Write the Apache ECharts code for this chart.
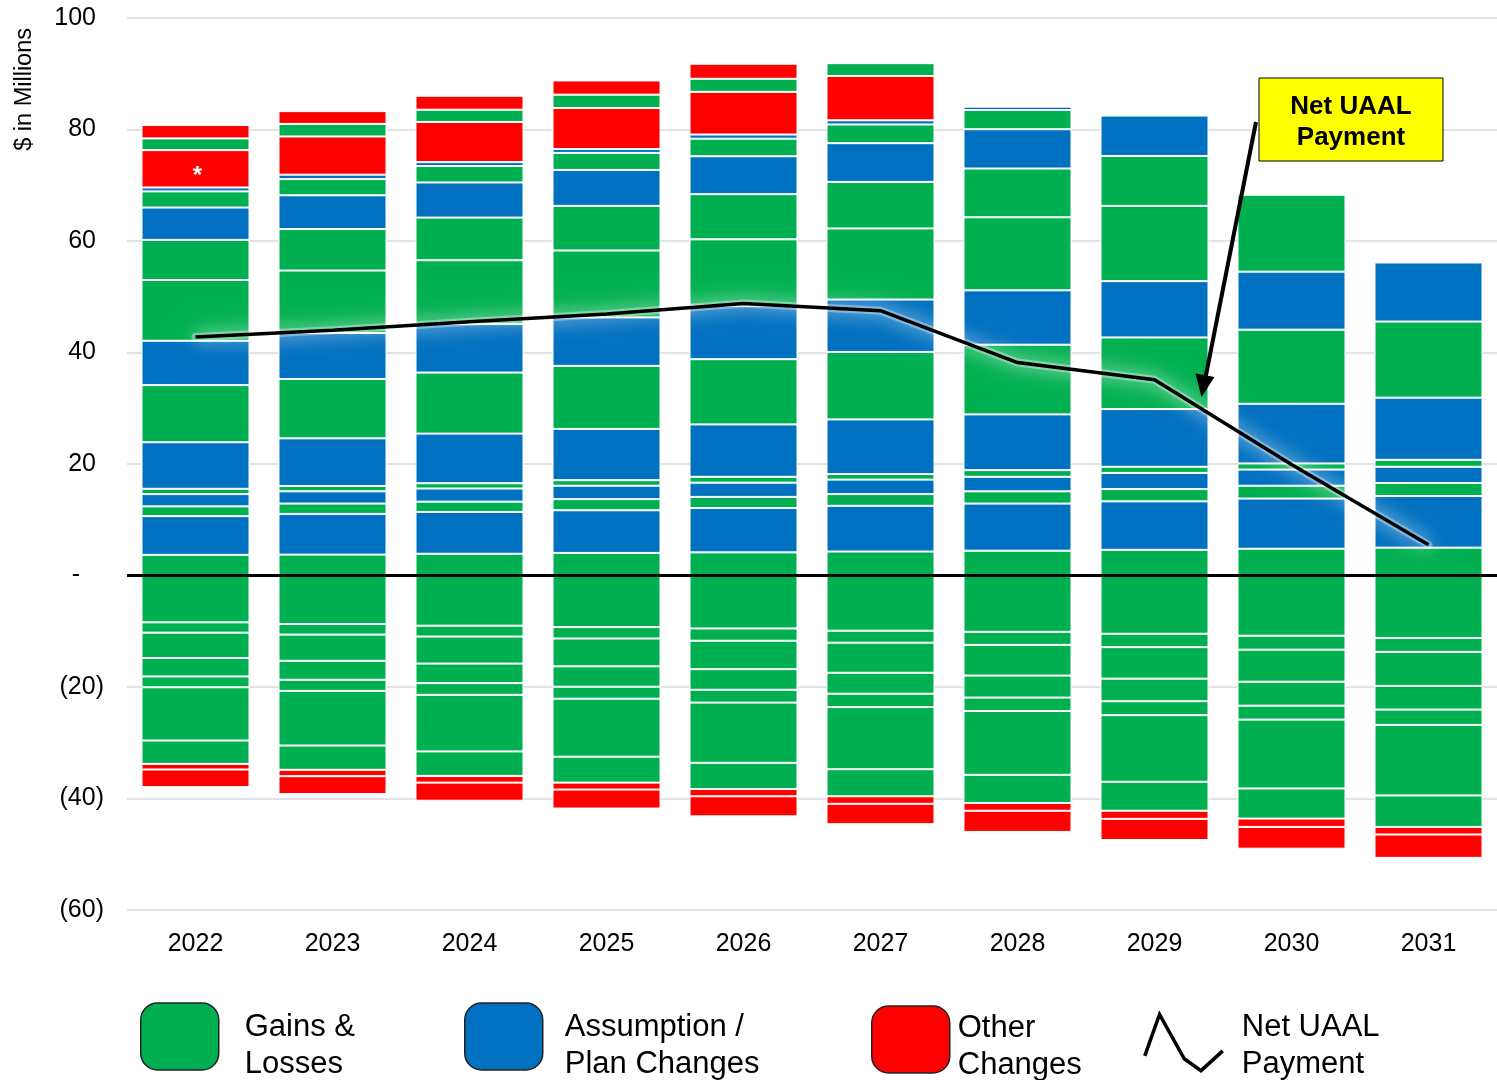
<!DOCTYPE html>
<html><head><meta charset="utf-8">
<script src="https://cdn.jsdelivr.net/npm/echarts@6/dist/echarts.min.js"></script>
<style>html,body{margin:0;padding:0;background:#fff}#c{width:1497px;height:1080px}</style>
</head><body><div id="c"></div>
<script>
// ---------- DATA ----------
const years = ['2022','2023','2024','2025','2026','2027','2028','2029','2030','2031'];
const yTickValues = [-60,-40,-20,0,20,40,60,80,100];
const yTickLabels = ['(60)','(40)','(20)','-','20','40','60','80','100'];

// positive layers, bottom to top
const posG1  = [3.7, 3.75, 3.9, 4.05, 4.15, 4.3, 4.45, 4.6, 4.8, 5.0];
const posB2  = [6.95, 7.3, 7.5, 7.65, 7.95, 8.2, 8.45, 8.7, 9.0, 9.25];
const posG3  = [1.75, 1.85, 1.85, 2.0, 2.0, 2.1, 2.2, 2.2, 2.3, 2.35];
const posB4  = [2.2, 2.2, 2.35, 2.4, 2.55, 2.6, 2.6, 2.9, 2.9, 2.9];
const posG5  = [0.95, 0.95, 0.95, 1.0, 1.05, 1.0, 1.2, 1.1, 1.1, 1.25];
const posB6  = [8.35, 8.55, 8.9, 9.2, 9.4, 9.8, 10.0, 10.35, 10.7, 11.15];
const posG7  = [10.25, 10.65, 10.95, 11.3, 11.7, 12.1, 12.5, 12.85, 13.3, 13.65];
const posB8  = [7.95, 8.25, 8.7, 8.7, 9.6, 9.4, 9.75, 10.1, 10.4, 10.6];
const posG9  = [10.9, 11.2, 11.45, 12.0, 11.9, 12.75, 13.1, 13.5, 13.8, null];
const posG10 = [7.2, 7.45, 7.65, 8.0, 8.1, 8.35, 8.75, 8.95, null, null];
const posB11 = [5.8, 6.05, 6.3, 6.45, 6.8, 6.95, 7.05, 7.25, null, null];
const posG12 = [2.9, 2.9, 2.95, 3.05, 3.15, 3.35, 3.45, null, null, null];
const posB13 = [0.7, 0.8, 0.7, 0.7, 0.75, 0.75, 0.6, null, null, null];
const posR14 = [6.7, 6.85, 7.2, 7.35, 7.65, 7.95, null, null, null, null];
const posG15 = [2.1, 2.25, 2.2, 2.4, 2.35, 2.3, null, null, null, null];
const posR16 = [2.4, 2.3, 2.5, 2.55, 2.7, null, null, null, null, null];

// negative layers, from zero downward
const negG1 = [-8.4, -8.7, -9.0, -9.25, -9.5, -9.9, -10.1, -10.45, -10.8, -11.2];
const negG2 = [-1.85, -1.9, -1.95, -2.05, -2.2, -2.15, -2.35, -2.4, -2.5, -2.5];
const negG3 = [-4.55, -4.7, -4.85, -5.0, -5.1, -5.4, -5.5, -5.65, -5.75, -6.1];
const negG4 = [-3.3, -3.4, -3.5, -3.65, -3.7, -3.75, -3.95, -4.05, -4.3, -4.25];
const negG5 = [-1.95, -2.0, -2.1, -2.15, -2.3, -2.4, -2.4, -2.5, -2.5, -2.75];
const negG6 = [-9.55, -9.8, -10.15, -10.4, -10.8, -11.15, -11.45, -11.95, -12.35, -12.65];
const negG7 = [-4.2, -4.35, -4.4, -4.65, -4.7, -4.85, -5.05, -5.2, -5.4, -5.65];
const negR8 = [-1.0, -1.15, -1.2, -1.25, -1.3, -1.35, -1.4, -1.45, -1.5, -1.35];
const negR9 = [-3.15, -3.2, -3.25, -3.4, -3.6, -3.65, -3.8, -3.8, -3.9, -4.2];

const netUAAL = [42.8, 44.0, 45.5, 46.9, 48.8, 47.5, 38.2, 35.1, 19.9, 5.5];

// ---------- STYLE ----------
const FONT = 'Arial, "Liberation Sans", sans-serif';
const COL = { g: '#00B050', b: '#0070C0', r: '#FF0000' };
const NAME = { g: 'Gains & Losses', b: 'Assumption / Plan Changes', r: 'Other Changes' };
const LEG = {
  'Gains & Losses': ['Gains &', 'Losses'],
  'Assumption / Plan Changes': ['Assumption /', 'Plan Changes'],
  'Other Changes': ['Other', 'Changes'],
  'Net UAAL Payment': ['Net UAAL', 'Payment']
};

const layers = [
  [posG1,'g'],[posB2,'b'],[posG3,'g'],[posB4,'b'],[posG5,'g'],[posB6,'b'],[posG7,'g'],[posB8,'b'],
  [posG9,'g'],[posG10,'g'],[posB11,'b'],[posG12,'g'],[posB13,'b'],[posR14,'r'],[posG15,'g'],[posR16,'r'],
  [negG1,'g'],[negG2,'g'],[negG3,'g'],[negG4,'g'],[negG5,'g'],[negG6,'g'],[negG7,'g'],[negR8,'r'],[negR9,'r']
];

const series = layers.map(([arr, c]) => ({
  type: 'bar',
  name: NAME[c],
  stack: 'total',
  barWidth: 108,
  itemStyle: { color: COL[c], borderColor: '#ffffff', borderWidth: 1 },
  emphasis: { disabled: true },
  data: arr.map((v, i) => {
    if (arr === posR14 && i === 0) {
      return { value: v, label: { show: true, formatter: '*', color: '#fff', fontSize: 24, fontWeight: 'bold', fontFamily: FONT, position: 'inside', offset: [2, 8] } };
    }
    return v;
  })
}));

// soft white glow under the payment line
series.push({
  type: 'line',
  name: 'glow',
  data: netUAAL,
  symbol: 'none',
  z: 9,
  silent: true,
  lineStyle: { color: 'rgba(255,255,255,0.35)', width: 8, cap: 'round', join: 'round',
               shadowColor: 'rgba(255,255,255,1)', shadowBlur: 30 },
  emphasis: { disabled: true }
});

series.push({
  type: 'line',
  name: 'Net UAAL Payment',
  data: netUAAL,
  symbol: 'none',
  z: 10,
  color: '#000',
  lineStyle: { color: '#000', width: 3.5, shadowColor: 'rgba(255,255,255,1)', shadowBlur: 16 },
  emphasis: { disabled: true },
  markLine: {
    silent: true, symbol: 'none',
    label: { show: false },
    lineStyle: { color: '#000', width: 3, type: 'solid', shadowBlur: 0 },
    data: [{ yAxis: 0 }]
  }
});

function legendCfg(name, left, top, textPad, shift, extra) {
  return Object.assign({
    left: left, top: top, padding: 0,
    itemWidth: 78, itemHeight: 67,
    icon: 'roundRect',
    itemStyle: { borderColor: '#222', borderWidth: 1.5 },
    selectedMode: false,
    formatter: n => '{s| }\n' + LEG[n].map(l => '{t|' + l + '}').join('\n'),
    textStyle: {
      fontFamily: FONT, fontSize: 31, color: '#000', padding: [0, 0, 0, textPad],
      rich: {
        s: { fontSize: 1, lineHeight: shift },
        t: { fontFamily: FONT, fontSize: 31, lineHeight: 37, color: '#000' }
      }
    },
    data: [name]
  }, extra || {});
}

const option = {
  animation: false,
  backgroundColor: '#fff',
  grid: { left: 127, right: -8, top: 18, bottom: 170, containLabel: false },
  xAxis: {
    type: 'category',
    data: years,
    axisLine: { show: false },
    axisTick: { show: false },
    axisLabel: { fontFamily: FONT, fontSize: 25, color: '#000', margin: 22 }
  },
  yAxis: {
    type: 'value',
    min: -60, max: 100, interval: 20,
    axisLine: { show: false },
    axisTick: { show: false },
    splitLine: { lineStyle: { color: '#d9d9d9', width: 1.5 } },
    axisLabel: {
      fontFamily: FONT, fontSize: 25, color: '#000', margin: 23,
      formatter: v => {
        const idx = yTickValues.indexOf(v);
        const t = idx >= 0 ? yTickLabels[idx] : '';
        if (v > 0) return '{p|' + t + '}';
        if (v === 0) return '{z|' + t + '}';
        return '{n|' + t + '}';
      },
      rich: {
        p: { fontFamily: FONT, fontSize: 25, color: '#000', padding: [0, 8, 0, 0] },
        z: { fontFamily: FONT, fontSize: 25, color: '#000', padding: [0, 24, 0, 0] },
        n: { fontFamily: FONT, fontSize: 25, color: '#000' }
      }
    }
  },
  legend: [
    legendCfg('Gains & Losses', 140, 999, 21, 18),
    legendCfg('Assumption / Plan Changes', 464, 999, 17, 18),
    legendCfg('Other Changes', 871, 1002, 3, 14),
    legendCfg('Net UAAL Payment', 1143, 1005, 14, 6, {
      itemHeight: 58,
      data: [{ name: 'Net UAAL Payment', icon: 'path://M0,42 L15,0 L40,45 L57,57 L79,37',
               itemStyle: { color: 'rgba(0,0,0,0)', borderColor: '#000', borderWidth: 3.5 } }]
    })
  ],
  graphic: [
    { type: 'text', left: 13, top: 28, rotation: Math.PI / 2,
      style: { text: '$ in Millions', fontFamily: FONT, fontSize: 23.5, fill: '#000' } },
    { type: 'rect', shape: { x: 1259, y: 78, width: 184, height: 83 },
      style: { fill: '#FFFF00', stroke: '#000', lineWidth: 1 }, z: 20 },
    { type: 'text', x: 1351, y: 122, z: 21,
      style: { text: 'Net UAAL\nPayment', fontFamily: FONT, fontSize: 26, fontWeight: 'bold', fill: '#000',
               align: 'center', verticalAlign: 'middle', lineHeight: 31 } },
    { type: 'line', shape: { x1: 1256, y1: 122, x2: 1205, y2: 380 },
      style: { stroke: '#000', lineWidth: 4 }, z: 20 },
    { type: 'polygon', shape: { points: [[1201.5, 397], [1214.5, 377], [1195.5, 373.5]] },
      style: { fill: '#000' }, z: 20 }
  ],
  series: series
};

const chart = echarts.init(document.getElementById('c'), null, { renderer: 'canvas' });
chart.setOption(option);
</script>
</body></html>
